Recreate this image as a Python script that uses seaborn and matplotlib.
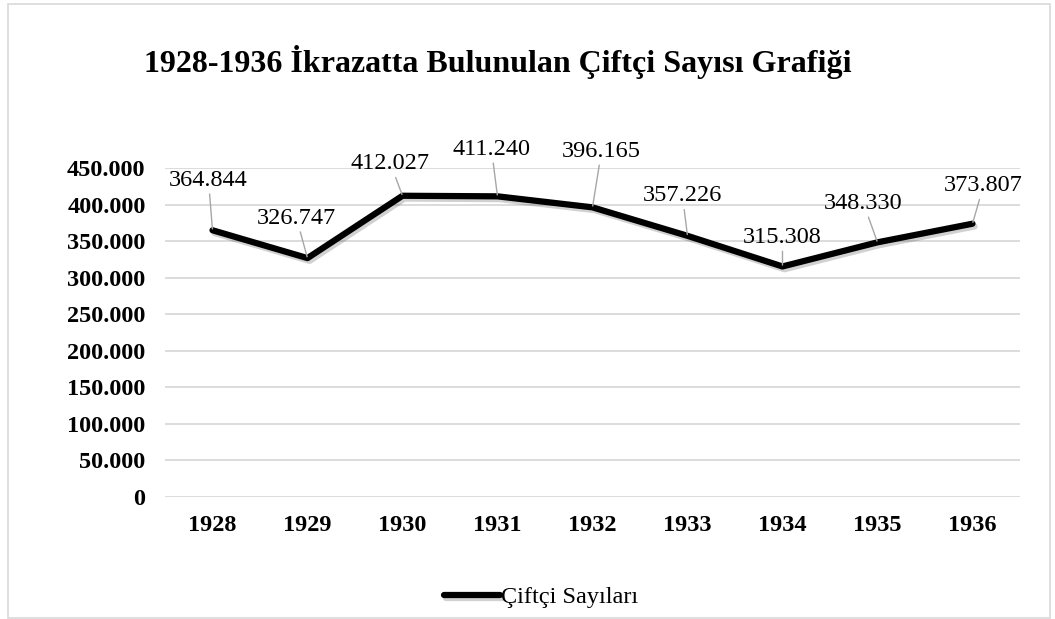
import numpy as np
import pandas as pd
import matplotlib
matplotlib.use('Agg')
import matplotlib.pyplot as plt
import matplotlib.patheffects as pe
from matplotlib.ticker import FuncFormatter, MultipleLocator
from matplotlib.patches import Rectangle
import seaborn as sns

# veriler
years = ['1928', '1929', '1930', '1931', '1932', '1933', '1934', '1935', '1936']
farmers = [364844, 326747, 412027, 411240, 396165, 357226, 315308, 348330, 373807]
series_name = 'Çiftçi Sayıları'
title = '1928-1936 İkrazatta Bulunulan Çiftçi Sayısı Grafiği'

# etiket kaydırmaları (piksel) - sadece yerleşim
label_offsets = [(-4, 50), (-11, 40), (-12, 32), (-6, 47), (9, 56),
                 (-5, 40), (0, 29), (-14, 39), (11, 38)]

sns.set_theme(style='white')
plt.rcParams['font.family'] = ['Liberation Serif', 'DejaVu Serif']
plt.rcParams['text.color'] = 'black'
plt.rcParams['xtick.color'] = 'black'
plt.rcParams['ytick.color'] = 'black'

df = pd.DataFrame({'year': years, 'value': farmers})
df['pos'] = np.arange(len(df))

fig = plt.figure(figsize=(10.55, 6.19), dpi=100)
ax = fig.add_axes([0.1564, 0.1971, 0.8104, 0.5315])

sns.lineplot(data=df, x='pos', y='value', ax=ax, color='black', linewidth=4.5,
             label=series_name, solid_capstyle='round', solid_joinstyle='round')
ax.lines[0].set_path_effects([pe.SimpleLineShadow(offset=(1.5, -2), alpha=0.2),
                              pe.Normal()])

ax.set_xlim(-0.5, len(years) - 0.5)
ax.set_ylim(0, 450000)
ax.yaxis.set_major_locator(MultipleLocator(50000))
ax.yaxis.set_major_formatter(FuncFormatter(lambda v, p: f'{int(v):,}'.replace(',', '.')))
ax.set_xticks(df['pos'])
ax.set_xticklabels(years)
ax.grid(axis='y', color='#d9d9d9', linewidth=1.3)
ax.set_axisbelow(True)
for s in ax.spines.values():
    s.set_visible(False)
ax.tick_params(axis='both', length=0, labelsize=17.5)
ax.tick_params(axis='y', pad=14)
ax.tick_params(axis='x', pad=13)
for t in ax.get_xticklabels() + ax.get_yticklabels():
    t.set_fontweight('bold')
ax.set_xlabel('')
ax.set_ylabel('')

# veri etiketleri
for i, v in enumerate(farmers):
    ax.annotate(f'{v:,}'.replace(',', '.'), xy=(i, v), xytext=label_offsets[i],
                textcoords='offset pixels', ha='center', va='center', fontsize=17.5,
                arrowprops=dict(arrowstyle='-', color='#a6a6a6', lw=1,
                                shrinkA=0, shrinkB=1))

fig.text(0.472, 0.9, title, ha='center', va='center', fontsize=23, fontweight='bold')

ax.legend(loc='center', bbox_to_anchor=(0.513, 0.035), bbox_transform=fig.transFigure,
          frameon=False, fontsize=17.5, handlelength=2.3, handletextpad=0.05)

fig.patches.append(Rectangle((8 / 1055, 1 / 619), 1042 / 1055, 614 / 619,
                             transform=fig.transFigure, fill=False,
                             edgecolor='#d9d9d9', linewidth=1.2))

fig.savefig('out.png', dpi=100)
